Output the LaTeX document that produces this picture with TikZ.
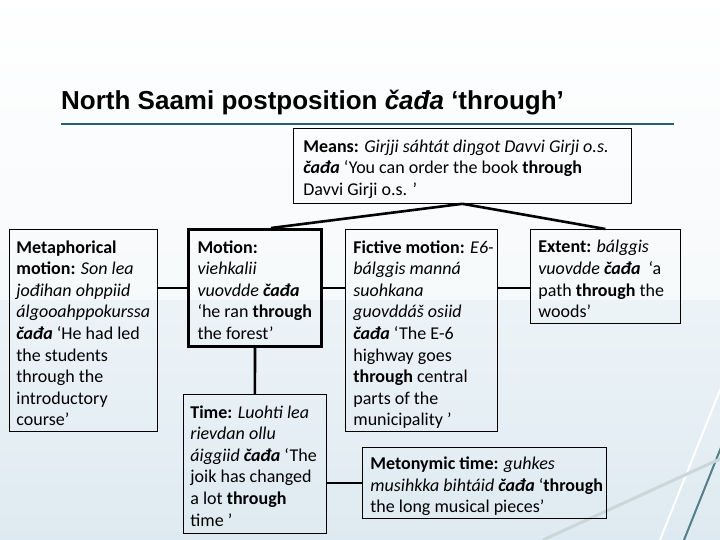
\documentclass[tikz,border=0pt]{standalone}
\usepackage{fontspec}
\setmainfont{Carlito}
\newfontfamily\titlefont{Liberation Sans}
\usetikzlibrary{calc}
\definecolor{rulecol}{RGB}{40,95,110}
\definecolor{bgA}{RGB}{255,255,255}
\definecolor{bgB}{RGB}{222,234,241}
% #1 top pad, #2 left pad, #3 width, #4 height, #5 text
\newcommand{\bx}[5][11]{\parbox[c][#4pt][t]{#3pt}{\fontsize{18}{21.6}\selectfont\leftskip=#2pt\rightskip=-40pt plus 1fil\parindent=0pt\vspace*{#1pt}#5}}
\newcommand{\cd}{\textbf{\textit{čađa}}}
\tikzset{
  box/.style={draw=black, line width=0.8pt, anchor=north west, inner sep=0pt, align=left},
  thickbox/.style={box, line width=3pt},
  conn/.style={draw=black, line width=2.6pt},
  deco/.style={line width=2pt}
}
\begin{document}
\begin{tikzpicture}[x=1pt,y=-1pt]
\useasboundingbox (0,0) rectangle (720,540);
\shade[left color=bgA, right color=bgB, shading angle=0] (0,0) rectangle (720,540);
\fill[white, opacity=0.55] (0,0) rectangle (720,300);
\draw[deco, color=white] (660,540) -- (722,385);
\draw[deco, color=rulecol!80] (684,540) -- (722,445);
\draw[deco, color=rulecol!25, line width=3pt] (543,540) -- (722,458);
% title
\node[anchor=base west, inner sep=0pt, font=\titlefont\bfseries\fontsize{26}{30}\selectfont] (title) at (61,110) {North Saami postposition \textit{čađa} ‘through’};
\coordinate (ruleL) at (61,124);
\coordinate (ruleR) at (674,124);
\draw[rulecol, line width=2pt] (ruleL) -- (ruleR);
% boxes
\node[box] (means) at (293,128) {\bx[11.5]{10}{338}{75}{\textbf{Means:} \textit{Girjji sáhtát diŋgot Davvi Girji o.s.}\\ \cd{} ‘You can order the book \textbf{through}\\ Davvi Girji o.s. ’}};
\node[box] (metaph) at (9,229) {\bx{7}{148}{202}{\textbf{Metaphorical}\\ \textbf{motion:} \textit{Son lea}\\ \textit{jođihan ohppiid}\\ \textit{álgooahppokurssa}\\ \cd{} ‘He had led\\ the students\\ through the\\ introductory\\ course’}};
\node[thickbox] (motion) at (187,228) {\bx{9}{133}{117}{\textbf{Motion:}\\ \textit{viehkalii}\\ \textit{vuovdde} \cd\\ ‘he ran \textbf{through}\\ the forest’}};
\node[box] (time) at (183,394) {\bx{7}{143}{139}{\textbf{Time:} \textit{Luohti lea}\\ \textit{rievdan ollu}\\ \textit{áiggiid} \cd{} ‘The\\ joik has changed\\ a lot \textbf{through}\\ time ’}};
\node[box] (fictive) at (345,229) {\bx{8}{152}{202}{\textbf{Fictive motion:} \textit{E6-}\\ \textit{bálggis manná}\\ \textit{suohkana}\\ \textit{guovddáš osiid}\\ \cd{} ‘The E-6\\ highway goes\\ \textbf{through} central\\ parts of the\\ municipality ’}};
\node[box] (extent) at (530,229) {\bx{8}{150}{94}{\textbf{Extent:} \textit{bálggis}\\ \textit{vuovdde} \cd{}\ \ ‘a\\ path \textbf{through} the\\ woods’}};
\node[box] (meton) at (362,447) {\bx[9.5]{8}{244}{71}{\textbf{Metonymic time:} \textit{guhkes}\\ \textit{musihkka bihtáid} \cd{} ‘\textbf{through}\\ the long musical pieces’}};
% connectors
\draw[conn] (means.south) -- ([xshift=16pt]motion.north);
\draw[conn] (means.south) -- (extent.north);
\draw[conn] (motion.west) -- (motion.west -| metaph.east);
\draw[conn] (motion.east) -- (motion.east -| fictive.west);
\draw[conn] (fictive.east |- motion.east) -- (extent.west |- motion.east);
\draw[conn] (motion.south) -- (time.north);
\draw[conn] (meton.west) -- (meton.west -| time.east);
\end{tikzpicture}
\end{document}
